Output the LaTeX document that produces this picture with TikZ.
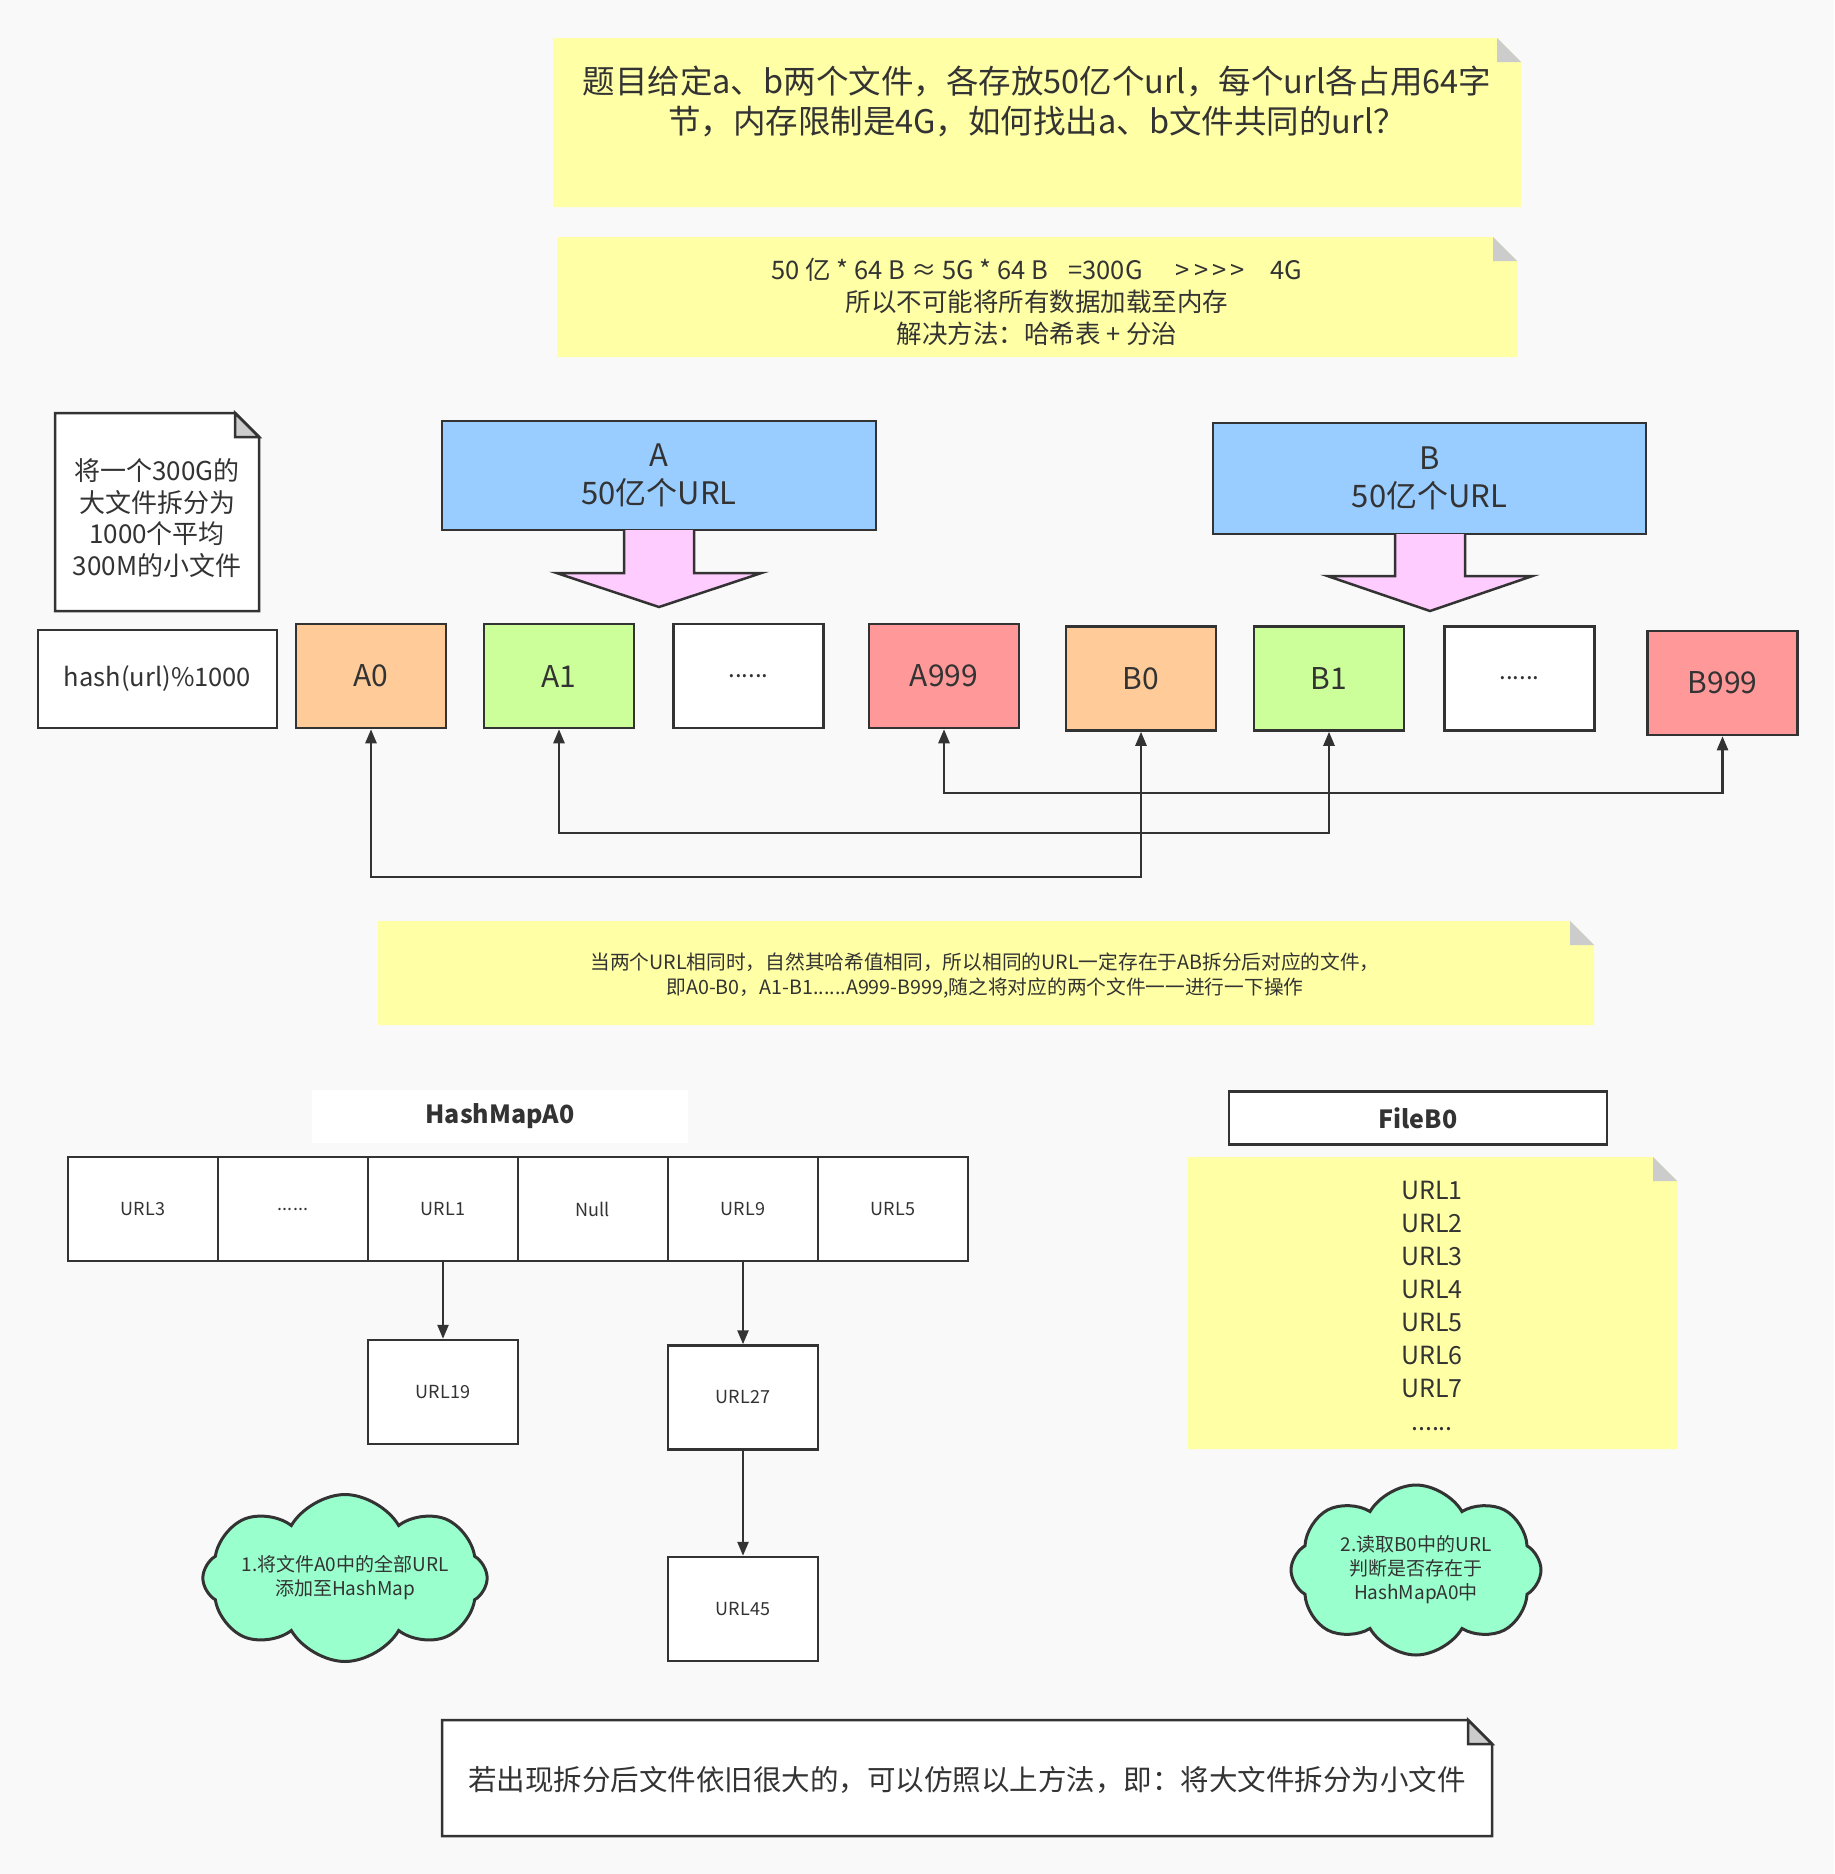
\documentclass[tikz,border=0pt]{standalone}
\usepackage{fontspec}
\setmainfont{Noto Sans CJK SC}
\usetikzlibrary{shapes.symbols,arrows.meta}
\definecolor{bgc}{HTML}{F9F9F9}
\definecolor{lc}{HTML}{333333}
\definecolor{tc}{HTML}{333333}
\definecolor{notey}{HTML}{FFFFA6}
\definecolor{foldc}{HTML}{CCCCCC}
\definecolor{bluec}{HTML}{99CCFF}
\definecolor{pinkc}{HTML}{FFCCFF}
\definecolor{orangec}{HTML}{FFCC99}
\definecolor{greenc}{HTML}{CCFF99}
\definecolor{redc}{HTML}{FF9999}
\definecolor{cloudc}{HTML}{99FFCC}
\newcommand{\ynote}[5]{%
  \fill[notey] (#1,#2) -- (#3-#5,#2) -- (#3,#2+#5) -- (#3,#4) -- (#1,#4) -- cycle;
  \fill[foldc] (#3-#5,#2) -- (#3-#5,#2+#5) -- (#3,#2+#5) -- cycle;}
\newcommand{\wnote}[5]{%
  \filldraw[fill=white,draw=lc,line width=2.5pt,line join=miter] (#1,#2) -- (#3-#5,#2) -- (#3,#2+#5) -- (#3,#4) -- (#1,#4) -- cycle;
  \filldraw[fill=foldc,draw=lc,line width=2.5pt] (#3-#5,#2) -- (#3-#5,#2+#5) -- (#3,#2+#5) -- cycle;}
\tikzset{
  txt/.style={text=tc,align=center,inner sep=0pt},
  box/.style={draw=lc,line width=2.5pt,minimum width=150pt,minimum height=104pt,inner sep=0pt,text=tc,font=\fontsize{30}{36}\selectfont},
  cell/.style={draw=lc,line width=2.5pt,fill=white,minimum width=150pt,minimum height=104pt,inner sep=0pt,text=tc,font=\fontsize{18}{22}\selectfont},
  bigbox/.style={draw=lc,line width=2.5pt,fill=bluec,inner sep=0pt,text=tc,align=center,font=\fontsize{31}{38}\selectfont},
  arr/.style={draw=lc,line width=2.5pt,-{Triangle[length=14pt,width=11pt]}},
  biarr/.style={draw=lc,line width=2.5pt,{Triangle[length=14pt,width=11pt]}-{Triangle[length=14pt,width=11pt]}},
  cloudn/.style={cloud,cloud puffs=8,cloud puff arc=120,cloud ignores aspect,draw=lc,line width=3pt,fill=cloudc,inner sep=0pt,text=tc,align=center,font=\fontsize{19}{24}\selectfont},
}
\begin{document}
\begin{tikzpicture}[x=1pt,y=-1pt]
\fill[bgc] (0,0) rectangle (1834,1874);
\useasboundingbox (0,0) rectangle (1834,1874);

% top notes
\ynote{553}{38}{1521}{207}{24}
\node[txt,font=\fontsize{32.5}{40}\selectfont] (n1) at (1037,101) {题目给定a、b两个文件，各存放50亿个url，每个url各占用64字\\节，内存限制是4G，如何找出a、b文件共同的url？};
\ynote{557}{237}{1517}{357}{24}
\node[txt,font=\fontsize{25.5}{32}\selectfont] (n2) at (1037,302) {50 亿 * 64 B ≈ 5G * 64 B\hspace{0.8em}=300G\hspace{1.3em}{>}\,{>}\,{>}\,{>}\hspace{1em}4G\\所以不可能将所有数据加载至内存\\解决方法：哈希表 + 分治};

% left note
\wnote{55}{413}{259}{611}{24}
\node[txt,font=\fontsize{26}{31.5}\selectfont] (n3) at (157,518) {将一个300G的\\大文件拆分为\\1000个平均\\300M的小文件};

% big boxes
\node[bigbox,minimum width=434pt,minimum height=109pt] (A) at (659,475.5) {A\\50亿个URL};
\node[bigbox,minimum width=433pt,minimum height=111pt] (B) at (1429.5,478.5) {B\\50亿个URL};

% pink arrows
\filldraw[fill=pinkc,draw=lc,line width=2.5pt,line join=miter] (624,530) -- (624,573) -- (556.5,573) -- (659,607) -- (761.5,573) -- (694,573) -- (694,530);
\filldraw[fill=pinkc,draw=lc,line width=2.5pt,line join=miter] (1395,534) -- (1395,576) -- (1327.5,576) -- (1430,611) -- (1532.5,576) -- (1465,576) -- (1465,534);

% row of files
\node[box,fill=white,minimum width=239pt,minimum height=98pt,font=\fontsize{25.5}{30}\selectfont] (hash) at (157.5,679) {hash(url)\%1000};
\node[box,fill=orangec] (a0) at (371,676) {A0};
\node[box,fill=greenc] (a1) at (559,676) {A1};
\node[box,fill=white,font=\fontsize{24}{30}\selectfont] (ad) at (748.5,676) {......};
\node[box,fill=redc] (a999) at (944,676) {A999};
\node[box,fill=orangec] (b0) at (1141,678.5) {B0};
\node[box,fill=greenc] (b1) at (1329,678.5) {B1};
\node[box,fill=white,font=\fontsize{24}{30}\selectfont] (bd) at (1519.5,678.5) {......};
\node[box,fill=redc] (b999) at (1722.5,683) {B999};

% connectors
\coordinate (y1) at (0,793);
\coordinate (y2) at (0,833);
\coordinate (y3) at (0,877);
\draw[biarr] (a999.south) -- (a999.south |- y1) -| (b999.south);
\draw[biarr] (a1.south) -- (a1.south |- y2) -| (b1.south);
\draw[biarr] (a0.south) -- (a0.south |- y3) -| (b0.south);

% middle note
\ynote{378}{921}{1594}{1025}{24}
\node[txt,font=\fontsize{19.7}{25}\selectfont] (n4) at (985,976) {当两个URL相同时，自然其哈希值相同，所以相同的URL一定存在于AB拆分后对应的文件，\\即A0-B0，A1-B1......A999-B999,随之将对应的两个文件一一进行一下操作};

% hashmap
\node[fill=white,minimum width=376pt,minimum height=53pt,inner sep=0pt,text=tc,font=\fontsize{25}{30}\selectfont\bfseries] (hm) at (500,1116.5) {HashMapA0};
\node[cell] (c1) at (143,1209) {URL3};
\node[cell] (c2) at (293,1209) {......};
\node[cell] (c3) at (443,1209) {URL1};
\node[cell] (c4) at (593,1209) {Null};
\node[cell] (c5) at (743,1209) {URL9};
\node[cell] (c6) at (893,1209) {URL5};
\node[cell] (u19) at (443,1392) {URL19};
\node[cell] (u27) at (743,1397.5) {URL27};
\node[cell] (u45) at (743,1609) {URL45};
\draw[arr] (c3) -- (u19);
\draw[arr] (c5) -- (u27);
\draw[arr] (u27) -- (u45);

% fileB0
\node[draw=lc,line width=2.5pt,fill=white,minimum width=378pt,minimum height=53pt,inner sep=0pt,text=tc,font=\fontsize{25}{30}\selectfont\bfseries] (fb) at (1418,1118) {FileB0};
\ynote{1188}{1157}{1677}{1449}{24}
\node[txt,font=\fontsize{25}{33}\selectfont] (fl) at (1432,1306) {URL1\\URL2\\URL3\\URL4\\URL5\\URL6\\URL7\\......};

% clouds
\node[cloudn,minimum width=245pt,minimum height=167pt] (cl1) at (345,1578) {1.将文件A0中的全部URL\\添加至HashMap};
\node[cloudn,minimum width=250pt,minimum height=170pt] (cl2) at (1416,1570) {2.读取B0中的URL\\判断是否存在于\\HashMapA0中};

% bottom note
\wnote{442}{1720}{1492}{1836}{24}
\node[txt,font=\fontsize{28.5}{34}\selectfont] (n5) at (967,1780) {若出现拆分后文件依旧很大的，可以仿照以上方法，即：将大文件拆分为小文件};
\end{tikzpicture}
\end{document}
